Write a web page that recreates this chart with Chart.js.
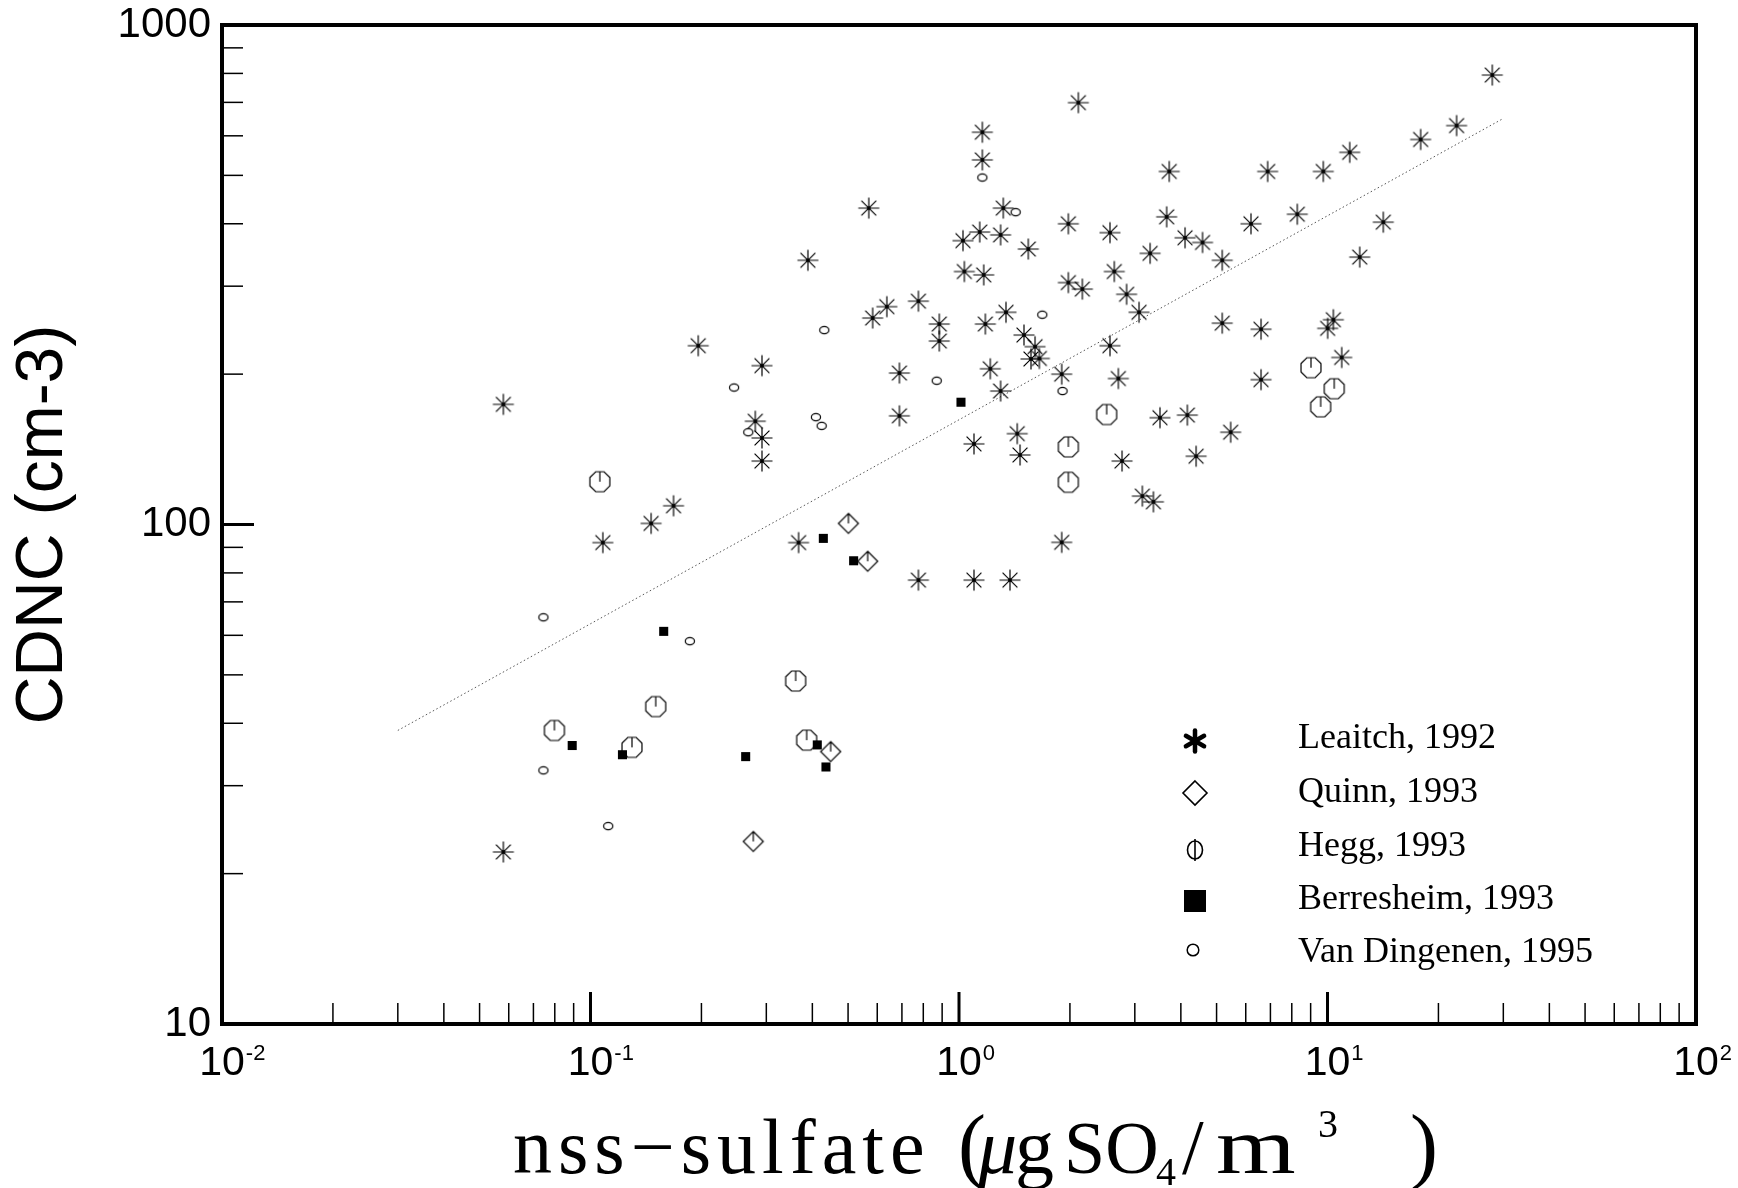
<!DOCTYPE html>
<html>
<head>
<meta charset="utf-8">
<script src="https://cdn.jsdelivr.net/npm/chart.js@4/dist/chart.umd.min.js"></script>
<style>
html, body { margin: 0; padding: 0; background: #fff; }
#wrap { width: 1738px; height: 1188px; }
</style>
</head>
<body>
<div id="wrap"><canvas id="cdncChart" width="1738" height="1188"></canvas></div>
<script>
// Leaitch, 1992
const leaitchX = [0.058,0.058,0.108,0.146,0.168,0.196,0.292,0.280,0.292,0.292,0.367,0.389,0.569,0.583,0.637,0.689,0.689,0.776,0.776,0.884,0.884,1.025,1.034,1.098,1.098,1.157,1.157,1.138,1.167,1.179,1.216,1.297,1.319,1.341,1.297,1.375,1.439,1.464,1.501,1.542,1.608,1.568,1.652,1.90,1.90,1.98,1.98,2.108,2.161,2.569,2.569,2.639,2.706,2.77,2.85,3.08,3.145,3.30,3.37,3.51,3.66,3.72,4.105,4.165,4.40,4.58,5.18,5.18,5.46,6.20,6.60,6.60,6.88,8.28,9.74,10.01,10.37,10.93,11.49,12.23,14.17,17.9,22.4,28.0];
const leaitchY = [174,22.1,92,100.5,109,228,208,161,149,134,92,338,430,259,273,201,165,280,77.4,252,233,370,321,145,77.4,610,537,385,316,252,205,380,430,266,185,77.4,152,137.8,239.5,356,227,214.5,215,200,92.1,400,305,699,296,384,228,321,196,134,289,266,114,349,111,163.6,413,509,375,165.6,137,367,338,253,153,400,246,195,509,418,509,247,257,216,556,343,403,590,629,794];
// Quinn, 1993
const quinnX = [0.501,0.565,0.4485,0.2765];
const quinnY = [100.5,84.4,35.1,23.2];
// Hegg, 1993
const heggX = [0.106,0.0798,0.1296,0.1503,0.3603,0.386,1.98,1.98,2.516,9.02,10.43,9.58];
const heggY = [121.8,38.7,35.8,43.2,48.6,37.0,143,121.5,166,206,187,172];
// Berresheim, 1993
const berrX = [0.0892,0.1221,0.158,0.2637,0.4125,0.4355,0.4284,0.5177,1.0125];
const berrY = [36.1,34.6,61.1,34.3,36.2,32.7,93.8,84.6,175.7];
// Van Dingenen, 1995
const vanDX = [0.0745,0.0745,0.1117,0.186,0.2453,0.268,0.409,0.424,0.431,0.870,1.157,1.425,1.683,1.91];
const vanDY = [65.2,32.2,24.9,58.4,188,153,164,157.6,245,194,495,422,263,185];
// regression line end points
const fitX = [0.03, 30];
const fitY = [38.7, 650];

const seriesLabels = ['Leaitch, 1992', 'Quinn, 1993', 'Hegg, 1993', 'Berresheim, 1993', 'Van Dingenen, 1995'];
const xDecades = [0.01, 0.1, 1, 10, 100];
const xExponents = ['-2', '-1', '0', '1', '2'];
const yTickLabels = ['10', '100', '1000'];

function toPoints(xs, ys) {
    return xs.map((v, i) => ({ x: v, y: ys[i] }));
}

// little canvases used as point styles
function makeMarker(w, h, draw) {
    const c = document.createElement('canvas');
    c.width = w;
    c.height = h;
    const g = c.getContext('2d');
    g.strokeStyle = '#000';
    g.fillStyle = '#000';
    g.lineWidth = 1.2;
    draw(g, w / 2, h / 2);
    return c;
}

const starMark = makeMarker(24, 24, function (g, cx, cy) {
    const r = 10.5;
    g.beginPath();
    for (let k = 0; k < 4; k++) {
        const a = k * Math.PI / 4;
        g.moveTo(cx + r * Math.cos(a), cy + r * Math.sin(a));
        g.lineTo(cx - r * Math.cos(a), cy - r * Math.sin(a));
    }
    g.stroke();
    g.beginPath();
    g.arc(cx, cy, 1.8, 0, 2 * Math.PI);
    g.fill();
});

const octMark = makeMarker(24, 24, function (g, cx, cy) {
    const R = 10.8;
    g.beginPath();
    for (let k = 0; k < 8; k++) {
        const a = Math.PI / 8 + k * Math.PI / 4;
        const px = cx + R * Math.cos(a), py = cy + R * Math.sin(a);
        if (k === 0) g.moveTo(px, py); else g.lineTo(px, py);
    }
    g.closePath();
    g.moveTo(cx, cy - R * Math.cos(Math.PI / 8));
    g.lineTo(cx, cy);
    g.stroke();
});

const diamondMark = makeMarker(24, 24, function (g, cx, cy) {
    const r = 10;
    g.beginPath();
    g.moveTo(cx, cy - r);
    g.lineTo(cx + r, cy);
    g.lineTo(cx, cy + r);
    g.lineTo(cx - r, cy);
    g.closePath();
    g.moveTo(cx, cy - r);
    g.lineTo(cx, cy);
    g.stroke();
});

const ovalMark = makeMarker(14, 12, function (g, cx, cy) {
    g.beginPath();
    g.ellipse(cx, cy, 4.6, 3.6, 0, 0, 2 * Math.PI);
    g.stroke();
});

function isDecade(v) {
    const l = Math.log10(v);
    return Math.abs(l - Math.round(l)) < 1e-9;
}

// frame, inward ticks, x labels with exponents, x title, legend
const framePlugin = {
    id: 'frame',
    afterDraw(chart) {
        const ctx = chart.ctx;
        const a = chart.chartArea;
        const xs = chart.scales.x, ys = chart.scales.y;
        ctx.save();
        ctx.strokeStyle = '#000';
        ctx.fillStyle = '#000';

        function line(x1, y1, x2, y2, w) {
            ctx.lineWidth = w;
            ctx.beginPath();
            ctx.moveTo(x1, y1);
            ctx.lineTo(x2, y2);
            ctx.stroke();
        }

        for (let d = -2; d <= 1; d++) {
            for (let m = 1; m <= 9; m++) {
                const v = m * Math.pow(10, d);
                const p = xs.getPixelForValue(v);
                const major = isDecade(v);
                line(p, a.bottom, p, a.bottom - (major ? 32 : 21), major ? 3 : 1.5);
            }
        }
        for (let d = 1; d <= 2; d++) {
            for (let m = 1; m <= 9; m++) {
                const v = m * Math.pow(10, d);
                const p = ys.getPixelForValue(v);
                const major = isDecade(v);
                line(a.left, p, a.left + (major ? 32 : 21), p, major ? 3 : 1.5);
            }
        }

        ctx.lineWidth = 4;
        ctx.strokeRect(a.left, a.top, a.right - a.left, a.bottom - a.top);

        // x tick labels 10^n
        ctx.textBaseline = 'alphabetic';
        xDecades.forEach(function (v, i) {
            const p = xs.getPixelForValue(v);
            ctx.font = '41px "Liberation Sans", Arial, sans-serif';
            ctx.textAlign = 'center';
            ctx.fillText('10', p, a.bottom + 51);
            const w = ctx.measureText('10').width;
            ctx.font = '22px "Liberation Sans", Arial, sans-serif';
            ctx.textAlign = 'left';
            ctx.fillText(xExponents[i], p + w / 2 + 1, a.bottom + 36);
        });

        // x title
        const base = a.bottom + 149;
        const serif = '"Liberation Serif", "Times New Roman", serif';
        const pieces = [
            { t: 'nss\u2212sulfate', x: 513, dy: 0, size: 78, sp: 6 },
            { t: '(', x: 958, dy: 0, size: 84, sp: 0 },
            { t: '\u03bc', x: 978, dy: 0, size: 78, sp: 0, it: true },
            { t: 'g', x: 1015, dy: 0, size: 78, sp: 0 },
            { t: 'SO', x: 1064, dy: 0, size: 74, sp: 0 },
            { t: '4', x: 1156, dy: 12, size: 40, sp: 0 },
            { t: '/', x: 1182, dy: 0, size: 78, sp: 0 },
            { t: 'm', x: 1216, dy: 0, size: 80, sp: 0, sx: 1.28 },
            { t: '3', x: 1318, dy: -36, size: 40, sp: 0 },
            { t: ')', x: 1410, dy: 0, size: 84, sp: 0 }
        ];
        ctx.textAlign = 'left';
        pieces.forEach(function (pc) {
            ctx.font = (pc.it ? 'italic ' : '') + pc.size + 'px ' + serif;
            const sx = pc.sx || 1;
            let x = pc.x;
            for (const ch of pc.t) {
                ctx.save();
                ctx.translate(x, base + pc.dy);
                ctx.scale(sx, 1);
                ctx.fillText(ch, 0, 0);
                ctx.restore();
                x += ctx.measureText(ch).width * sx + pc.sp;
            }
        });

        // legend
        const symX = a.left + 973;
        const txtX = a.left + 1076;
        const rowY = [739, 793, 847, 900, 953];
        ctx.font = '36px ' + serif;
        ctx.textBaseline = 'middle';
        seriesLabels.forEach(function (lab, i) {
            const y = rowY[i];
            ctx.fillText(lab, txtX, y);
            ctx.lineCap = 'round';
            if (i === 0) {
                for (let k = 0; k < 3; k++) {
                    const ang = Math.PI / 2 + k * Math.PI / 3;
                    line(symX + 10.5 * Math.cos(ang), y + 2 + 10.5 * Math.sin(ang), symX - 10.5 * Math.cos(ang), y + 2 - 10.5 * Math.sin(ang), 4.5);
                }
            } else if (i === 1) {
                ctx.lineWidth = 1.6;
                ctx.lineCap = 'butt';
                ctx.beginPath();
                ctx.moveTo(symX, y - 12);
                ctx.lineTo(symX + 12, y);
                ctx.lineTo(symX, y + 12);
                ctx.lineTo(symX - 12, y);
                ctx.closePath();
                ctx.stroke();
            } else if (i === 2) {
                ctx.lineWidth = 1.6;
                ctx.lineCap = 'butt';
                ctx.beginPath();
                ctx.ellipse(symX, y + 3, 7.5, 9, 0, 0, 2 * Math.PI);
                ctx.stroke();
                line(symX, y - 8, symX, y + 14, 1.6);
            } else if (i === 3) {
                ctx.fillRect(symX - 11, y - 10, 22, 22);
            } else {
                ctx.lineWidth = 1.5;
                ctx.beginPath();
                ctx.arc(symX - 2, y - 3, 5.8, 0, 2 * Math.PI);
                ctx.stroke();
            }
        });
        ctx.restore();
    }
};

const sansFont = '"Liberation Sans", Arial, Helvetica, sans-serif';

new Chart(document.getElementById('cdncChart'), {
    type: 'scatter',
    data: {
        datasets: [
            { label: 'fit', type: 'line', data: toPoints(fitX, fitY), borderColor: '#555', borderWidth: 1, borderDash: [1.5, 2.5], pointRadius: 0, fill: false, order: 10 },
            { label: seriesLabels[0], data: toPoints(leaitchX, leaitchY), pointStyle: starMark, pointRadius: 10 },
            { label: seriesLabels[1], data: toPoints(quinnX, quinnY), pointStyle: diamondMark, pointRadius: 10 },
            { label: seriesLabels[2], data: toPoints(heggX, heggY), pointStyle: octMark, pointRadius: 10 },
            { label: seriesLabels[3], data: toPoints(berrX, berrY), pointStyle: 'rect', pointRadius: 6.4, backgroundColor: '#000', borderWidth: 0 },
            { label: seriesLabels[4], data: toPoints(vanDX, vanDY), pointStyle: ovalMark, pointRadius: 5 }
        ]
    },
    options: {
        responsive: false,
        animation: false,
        layout: { padding: { top: 25, right: 42, left: 0, bottom: 0 } },
        plugins: { legend: { display: false }, tooltip: { enabled: false } },
        scales: {
            x: {
                type: 'logarithmic',
                min: 0.01,
                max: 100,
                grid: { display: false, drawTicks: false },
                border: { display: false },
                ticks: { display: false },
                afterFit: function (s) {
                    s.height = 164;
                    s.paddingLeft = 0;
                    s.paddingRight = 0;
                }
            },
            y: {
                type: 'logarithmic',
                min: 10,
                max: 1000,
                grid: { display: false, drawTicks: false, tickLength: 0 },
                border: { display: false },
                ticks: {
                    autoSkip: false,
                    padding: 11,
                    color: '#000',
                    font: { family: sansFont, size: 42 },
                    callback: function (v) { return yTickLabels.includes(String(v)) ? String(v) : ''; }
                },
                title: {
                    display: true,
                    text: 'CDNC (cm-3)',
                    color: '#000',
                    font: { family: sansFont, size: 66 },
                    padding: { top: 4, bottom: 0 }
                },
                afterFit: function (s) {
                    s.width = 222;
                    s.paddingTop = 0;
                    s.paddingBottom = 0;
                }
            }
        }
    },
    plugins: [framePlugin]
});
</script>
</body>
</html>
